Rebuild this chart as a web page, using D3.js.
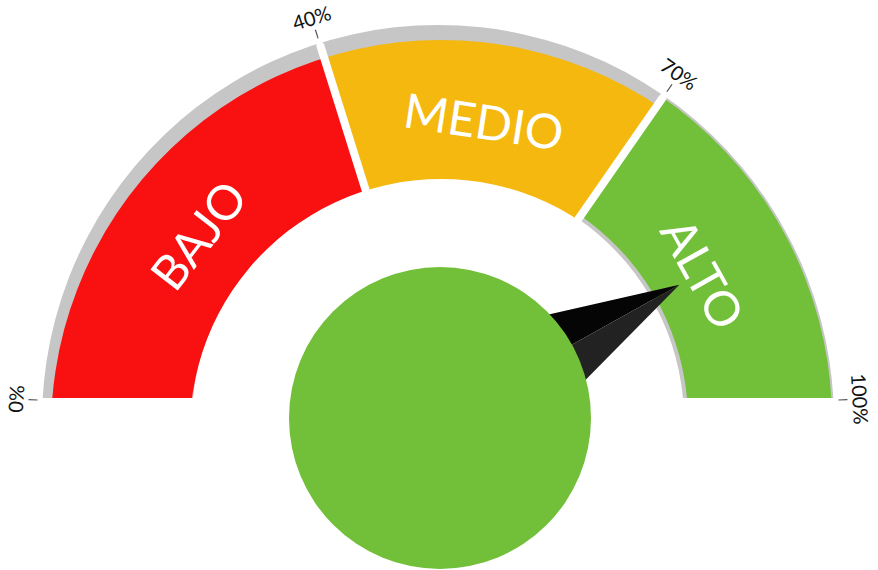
<!DOCTYPE html>
<html>
<head>
<meta charset="utf-8">
<script src="https://cdn.jsdelivr.net/npm/d3@7"></script>
<style>
  html, body { margin: 0; padding: 0; background: #fff; }
  svg { display: block; font-family: Lato, "Open Sans", sans-serif; }
</style>
</head>
<body>
<svg id="chart" width="878" height="570"></svg>
<script>
// gauge bands
const bandNames = ["BAJO", "MEDIO", "ALTO"];
const bandFrom = [0, 40, 70];
const bandTo = [40, 70, 100];
const bandColors = ["#f91010", "#f4b80f", "#72bf3a"];

// ticks
const tickValues = [0, 40, 70, 100];
const tickLabels = ["0%", "40%", "70%", "100%"];

// needle
const needleValue = 85;

const svg = d3.select("#chart");
const width = 878, height = 570;

// gauge centre (grey backing, ticks, wedges) and the needle pivot
const G = { x: 438, y: 421 };
const pivot = { x: 440, y: 418, r: 151 };
// coloured rings: red and yellow sit a bit lower than the green one
const rings = [
  { dx: 3, dy: 9, r0: 251, r1: 390 },
  { dx: 3, dy: 9, r0: 251, r1: 390 },
  { dx: 0, dy: 0, r0: 250, r1: 394 },
];

const deg = Math.PI / 180;
const angle = d3.scaleLinear().domain([0, 100]).range([-87 * deg, 87 * deg]);
const wide = 100 * deg;

const defs = svg.append("defs");

//everything in the ring is cut flat at the baseline (page coordinates)
defs.append("clipPath").attr("id", "base-clip")
  .append("rect").attr("x", 0).attr("y", 0).attr("width", width).attr("height", 398);

const bands = bandNames.map((name, i) => ({
  name, from: bandFrom[i], to: bandTo[i], color: bandColors[i], ring: rings[i], i
}));

// one wedge per band, measured from the gauge centre (used inside the translated group)
const wedge = d3.arc().innerRadius(0).outerRadius(470);
defs.selectAll("clipPath.wedge")
  .data(bands)
  .join("clipPath")
  .attr("class", "wedge")
  .attr("id", (d) => `wedge-${d.i}`)
  .append("path")
  .attr("d", (d) => wedge({
    startAngle: d.from === 0 ? -wide : angle(d.from),
    endAngle: d.to === 100 ? wide : angle(d.to)
  }));

const ringG = svg.append("g")
  .attr("clip-path", "url(#base-clip)")
  .append("g")
  .attr("transform", `translate(${G.x},${G.y})`);

// grey backing arc
ringG.append("path")
  .attr("fill", "#c6c6c6")
  .attr("d", d3.arc()({ innerRadius: 246, outerRadius: 396, startAngle: -wide, endAngle: wide }));

ringG.selectAll("g.band")
  .data(bands)
  .join("g")
  .attr("class", "band")
  .attr("clip-path", (d) => `url(#wedge-${d.i})`)
  .append("path")
  .attr("transform", (d) => `translate(${d.ring.dx},${d.ring.dy})`)
  .attr("fill", (d) => d.color)
  .attr("d", (d) => d3.arc()({
    innerRadius: d.ring.r0, outerRadius: d.ring.r1, startAngle: -wide, endAngle: wide
  }));

// white separators between the bands
ringG.selectAll("line.sep")
  .data(bandFrom.slice(1))
  .join("line")
  .attr("class", "sep")
  .attr("x1", (d) => Math.sin(angle(d)) * 235)
  .attr("y1", (d) => -Math.cos(angle(d)) * 235)
  .attr("x2", (d) => Math.sin(angle(d)) * 393)
  .attr("y2", (d) => -Math.cos(angle(d)) * 393)
  .attr("stroke", "#fff")
  .attr("stroke-width", 8)
  .attr("stroke-linecap", "round");

// band labels
ringG.selectAll("text.band-label")
  .data(bands)
  .join("text")
  .attr("class", "band-label")
  .attr("transform", (d) => {
    const a = angle((d.from + d.to) / 2);
    const r = 304;
    return `translate(${Math.sin(a) * r},${-Math.cos(a) * r}) rotate(${a / deg})`;
  })
  .attr("text-anchor", "middle")
  .attr("dominant-baseline", "central")
  .attr("fill", "#fff")
  .attr("font-size", 48)
  .text((d) => d.name);

// tick marks and labels
const tickG = svg.append("g").attr("transform", `translate(${G.x},${G.y})`);

tickG.selectAll("line.tick")
  .data(tickValues)
  .join("line")
  .attr("class", "tick")
  .attr("x1", (d) => Math.sin(angle(d)) * 401)
  .attr("y1", (d) => -Math.cos(angle(d)) * 401)
  .attr("x2", (d) => Math.sin(angle(d)) * 410)
  .attr("y2", (d) => -Math.cos(angle(d)) * 410)
  .attr("stroke", "#555")
  .attr("stroke-width", 1.2);

tickG.selectAll("text.tick-label")
  .data(tickValues)
  .join("text")
  .attr("class", "tick-label")
  .attr("transform", (d) => {
    const a = angle(d);
    const r = 423;
    return `translate(${Math.sin(a) * r},${-Math.cos(a) * r}) rotate(${a / deg})`;
  })
  .attr("text-anchor", "middle")
  .attr("dominant-baseline", "central")
  .attr("fill", "#111")
  .attr("font-size", 20)
  .text((d, i) => tickLabels[i]);

// needle, drawn in two halves
const na = angle(needleValue);
const len = 274, half = 80;
const tip = [Math.sin(na) * len, -Math.cos(na) * len];
const left = [-Math.cos(na) * half, -Math.sin(na) * half];
const right = [Math.cos(na) * half, Math.sin(na) * half];

const needleG = svg.append("g").attr("transform", `translate(${pivot.x},${pivot.y})`);
const line = d3.line();
needleG.append("path").attr("fill", "#050505").attr("d", line([[0, 0], left, tip]) + "Z");
needleG.append("path").attr("fill", "#222222").attr("d", line([[0, 0], tip, right]) + "Z");

// pivot disc
needleG.append("circle").attr("r", pivot.r).attr("fill", "#72bf3a");
</script>
</body>
</html>
